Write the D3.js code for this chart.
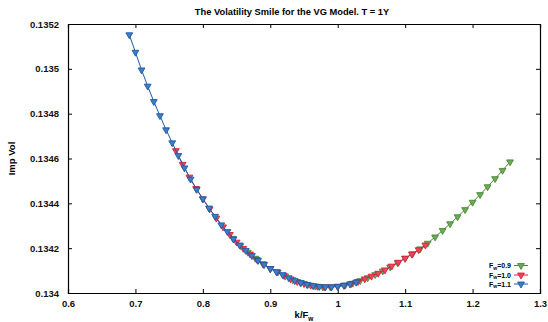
<!DOCTYPE html>
<html>
<head>
<meta charset="utf-8">
<script src="https://cdn.jsdelivr.net/npm/d3@7"></script>
<style>
  html, body { margin: 0; padding: 0; background: #fff; }
  svg { display: block; font-family: "Liberation Sans", Arial, Helvetica, sans-serif; font-weight: bold; }
</style>
</head>
<body>
<svg id="chart" width="548" height="322"></svg>
<script>
// Strikes used for every forward level
const strikes = [0.76, 0.77, 0.78, 0.79, 0.80, 0.81, 0.82, 0.83, 0.84, 0.85,
                 0.86, 0.87, 0.88, 0.89, 0.90, 0.91, 0.92, 0.93, 0.94, 0.95,
                 0.96, 0.97, 0.98, 0.99, 1.00, 1.01, 1.02, 1.03, 1.04, 1.05,
                 1.06, 1.07, 1.08, 1.09, 1.10, 1.11, 1.12, 1.13];

// Implied vols under the VG model, one array per forward
const volF09 = [0.134244, 0.134211, 0.134182, 0.134155, 0.1341305, 0.134109, 0.134093, 0.134075, 0.134059, 0.134047,
                0.1340374, 0.134031, 0.1340276, 0.1340272, 0.1340297, 0.1340352, 0.1340436, 0.1340551, 0.134068, 0.134082,
                0.134098, 0.134116, 0.134135, 0.134155, 0.134175, 0.134197, 0.134222, 0.134250, 0.134279, 0.134309,
                0.134340, 0.134372, 0.134405, 0.134439, 0.134474, 0.134510, 0.134547, 0.134585];
const volF10 = [0.134635, 0.134574, 0.134517, 0.134466, 0.134420, 0.134375, 0.134334, 0.134295, 0.134261, 0.134227,
                0.134199, 0.134174, 0.134150, 0.134128, 0.134109, 0.134094, 0.134079, 0.134063, 0.134051, 0.134042,
                0.1340345, 0.1340297, 0.1340273, 0.1340273, 0.1340297, 0.1340345, 0.1340417, 0.1340513, 0.134063, 0.134075,
                0.134088, 0.134103, 0.134120, 0.134137, 0.134155, 0.134173, 0.134193, 0.134214];
const volF11 = [0.135152, 0.135074, 0.134995, 0.134923, 0.134854, 0.134791, 0.134728, 0.134670, 0.134613, 0.134558,
                0.134508, 0.134462, 0.134420, 0.134379, 0.134342, 0.134304, 0.134274, 0.134241, 0.134214, 0.134190,
                0.134167, 0.134145, 0.134127, 0.134109, 0.134095, 0.134082, 0.134068, 0.134055, 0.134046, 0.134038,
                0.1340325, 0.1340288, 0.1340271, 0.1340274, 0.1340297, 0.134034, 0.1340402, 0.1340485];

const forwards = [0.9, 1.0, 1.1];
const forwardLabels = ["0.9", "1.0", "1.1"];
const colors = ["#4a8a36", "#dc1c3a", "#1b5aa8"];
const fills  = ["#6ea85a", "#e8485f", "#3f7cc4"];

const xTicks = [0.6, 0.7, 0.8, 0.9, 1.0, 1.1, 1.2, 1.3];
const xTickLabels = ["0.6", "0.7", "0.8", "0.9", "1", "1.1", "1.2", "1.3"];
const yTicks = [0.134, 0.1342, 0.1344, 0.1346, 0.1348, 0.135, 0.1352];
const yTickLabels = ["0.134", "0.1342", "0.1344", "0.1346", "0.1348", "0.135", "0.1352"];

const titleText = "The Volatility Smile for the VG Model. T = 1Y";
const yLabelText = "Imp Vol";

const svg = d3.select("#chart");
const W = 548, H = 322;
const margin = { left: 68, right: 8, top: 24, bottom: 29 };
const iw = W - margin.left - margin.right;
const ih = H - margin.top - margin.bottom;

const x = d3.scaleLinear().domain([0.6, 1.3]).range([0, iw]);
const y = d3.scaleLinear().domain([0.134, 0.1352]).range([ih, 0]);

const g = svg.append("g").attr("transform", `translate(${margin.left},${margin.top})`);

// Axes with inward ticks on all four sides
const tickLen = 4;
const axB = g.append("g").attr("transform", `translate(0,${ih})`)
  .call(d3.axisBottom(x).tickValues(xTicks).tickSize(-tickLen).tickPadding(7)
        .tickFormat((d, i) => xTickLabels[i]));
const axT = g.append("g")
  .call(d3.axisTop(x).tickValues(xTicks).tickSize(-tickLen).tickFormat(""));
const axL = g.append("g")
  .call(d3.axisLeft(y).tickValues(yTicks).tickSize(-tickLen).tickPadding(9)
        .tickFormat((d, i) => yTickLabels[i]));
const axR = g.append("g").attr("transform", `translate(${iw},0)`)
  .call(d3.axisRight(y).tickValues(yTicks).tickSize(-tickLen).tickFormat(""));

[axB, axT, axL, axR].forEach(a => {
  a.select(".domain").attr("stroke", "#000").attr("stroke-width", 1.2);
  a.selectAll(".tick line").attr("stroke", "#000").attr("stroke-width", 1);
  a.selectAll("text").attr("font-size", 9.5).attr("font-weight", "bold")
    .attr("font-family", "Liberation Sans, Arial, sans-serif").attr("fill", "#111");
});

// Series: green, red, then blue drawn on top
const series = [volF09, volF10, volF11].map((vols, i) => ({
  F: forwards[i],
  color: colors[i],
  fill: fills[i],
  points: strikes.map((k, j) => ({ m: k / forwards[i], v: vols[j] }))
}));

const line = d3.line().x(d => x(d.m)).y(d => y(d.v));
const tri = d3.symbol().type(d3.symbolTriangle).size(20);

series.forEach(s => {
  const sg = g.append("g");
  sg.append("path").datum(s.points)
    .attr("d", line).attr("fill", "none")
    .attr("stroke", s.color).attr("stroke-width", 1);
  sg.selectAll("path.mk").data(s.points).enter().append("path")
    .attr("class", "mk")
    .attr("d", tri)
    .attr("transform", d => `translate(${x(d.m)},${y(d.v)}) rotate(180)`)
    .attr("fill", s.fill).attr("stroke", s.color).attr("stroke-width", 0.9);
});

// Title
svg.append("text")
  .attr("x", 292).attr("y", 15)
  .attr("text-anchor", "middle").attr("font-size", 9.3)
  .text(titleText);

// Axis labels
svg.append("text")
  .attr("transform", `translate(15,${margin.top + ih / 2}) rotate(-90)`)
  .attr("text-anchor", "middle").attr("font-size", 9.5)
  .text(yLabelText);

const xl = svg.append("text")
  .attr("x", margin.left + iw / 2).attr("y", 318)
  .attr("text-anchor", "middle").attr("font-size", 9.5);
xl.append("tspan").text("k/F");
xl.append("tspan").attr("font-size", 6.5).attr("dy", 2.5).text("w");

// Legend
const lg = svg.append("g");
const rowY = [265.5, 275, 284];
series.forEach((s, i) => {
  const t = lg.append("text")
    .attr("x", 511).attr("y", rowY[i] + 2.5)
    .attr("text-anchor", "end").attr("font-size", 7);
  t.append("tspan").text("F");
  t.append("tspan").attr("font-size", 5).attr("dy", 1.5).text("w");
  t.append("tspan").attr("dy", -1.5).text("=" + forwardLabels[i]);
  lg.append("line")
    .attr("x1", 514).attr("x2", 528).attr("y1", rowY[i]).attr("y2", rowY[i])
    .attr("stroke", s.color).attr("stroke-width", 1);
  lg.append("path").attr("d", tri)
    .attr("transform", `translate(521,${rowY[i]}) rotate(180)`)
    .attr("fill", s.fill).attr("stroke", s.color).attr("stroke-width", 0.9);
});
</script>
</body>
</html>
